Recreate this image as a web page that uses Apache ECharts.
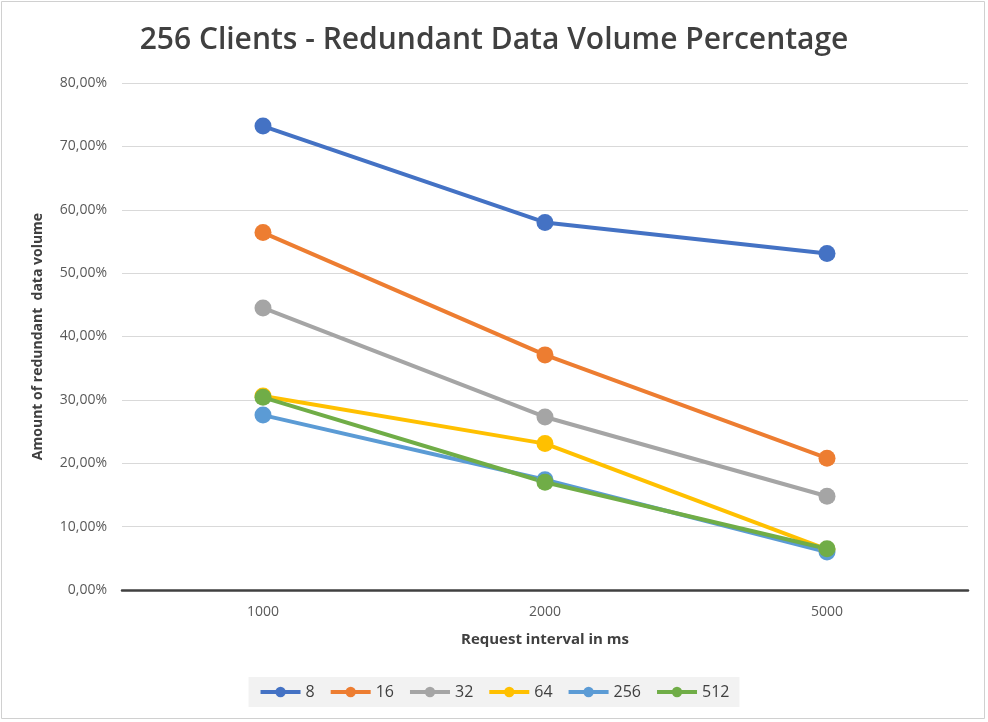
<!DOCTYPE html>
<html><head><meta charset="utf-8">
<script src="https://cdn.jsdelivr.net/npm/echarts@6/dist/echarts.min.js"></script>
<style>html,body{margin:0;padding:0;background:#fff}#c{width:988px;height:722px}</style>
</head><body><div id="c"></div>
<script>
var categories = ['1000', '2000', '5000'];
var seriesNames = ['8', '16', '32', '64', '256', '512'];
var s8 = [73.2, 58.0, 53.1];
var s16 = [56.4, 37.1, 20.8];
var s32 = [44.5, 27.3, 14.8];
var s64 = [30.6, 23.1, 6.4];
var s256 = [27.6, 17.4, 6.0];
var s512 = [30.4, 17.0, 6.5];
var seriesData = [s8, s16, s32, s64, s256, s512];
var colors = ['#4472C4', '#ED7D31', '#A5A5A5', '#FFC000', '#5B9BD5', '#70AD47'];
var yTicks = [0, 10, 20, 30, 40, 50, 60, 70, 80];

var font = 'Open Sans, Liberation Sans, sans-serif';
var chart = echarts.init(document.getElementById('c'));
chart.setOption({
  animation: false,
  backgroundColor: '#fff',
  color: colors,
  title: {
    text: '256 Clients - Redundant Data Volume Percentage',
    left: 'center', top: 20,
    textStyle: { fontFamily: font, fontSize: 30, fontWeight: 600, color: '#404040' }
  },
  graphic: [{
    type: 'rect', shape: { x: 1.5, y: 1.5, width: 983, height: 717 },
    style: { fill: null, stroke: '#d0d0d0', lineWidth: 1 }, silent: true, z: -1
  }],
  legend: {
    bottom: 15, left: 'center',
    backgroundColor: '#f2f2f2',
    padding: [7, 10, 7, 10],
    itemWidth: 40, itemHeight: 13, itemGap: 14,
    lineStyle: { width: 4 },
    textStyle: { fontFamily: font, fontSize: 16, color: '#404040' },
    data: seriesNames
  },
  grid: { left: 122, right: 20, top: 83, bottom: 132 },
  xAxis: {
    type: 'category', data: categories, boundaryGap: true,
    name: 'Request interval in ms', nameLocation: 'middle', nameGap: 42,
    nameTextStyle: { fontFamily: font, fontSize: 15, fontWeight: 'bold', color: '#404040' },
    axisLine: { lineStyle: { color: '#404040', width: 2.5 } },
    axisTick: { show: false },
    axisLabel: { margin: 15, fontFamily: font, fontSize: 14, color: '#595959' }
  },
  yAxis: {
    type: 'value', min: 0, max: 80, interval: 10,
    name: 'Amount of redundant  data volume', nameLocation: 'middle', nameGap: 77, nameRotate: 90,
    nameTextStyle: { fontFamily: font, fontSize: 14, fontWeight: 'bold', color: '#404040' },
    axisLine: { show: false }, axisTick: { show: false },
    splitLine: { lineStyle: { color: '#d9d9d9', width: 1 } },
    axisLabel: {
      margin: 15, fontFamily: font, fontSize: 14, color: '#595959',
      formatter: function (v) { return v.toFixed(2).replace('.', ',') + '%'; }
    }
  },
  series: seriesNames.map(function (n, i) {
    return {
      name: n, type: 'line', data: seriesData[i],
      symbol: 'circle', symbolSize: 17,
      lineStyle: { width: 4, color: colors[i] },
      itemStyle: { color: colors[i] }
    };
  })
});
</script></body></html>
